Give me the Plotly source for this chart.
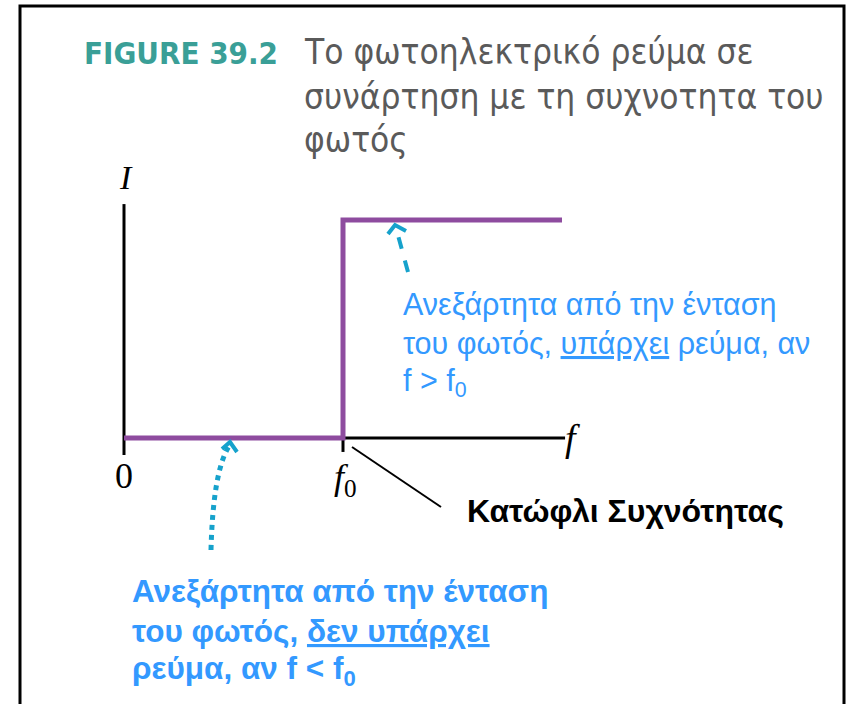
import plotly.graph_objects as go

# Photoelectric current I versus light frequency f (normalised units)
f_points = [0.0, 1.0, 2.0]          # 0, threshold f0, end of plotted range
I_points = [0.0, 1.0, 1.0]          # no current below f0, constant current above
x_axis_f = [0.0, 2.014]
x_axis_I = [0.0, 0.0]
y_axis_f = [0.0, 0.0]
y_axis_I = [-0.078, 1.073]
f0_tick_f = [1.0, 1.0]
f0_tick_I = [0.0, -0.064]

W, H = 852, 704
X_RANGE = [-124 / 219, 728 / 219]
Y_RANGE = [(438 - 704) / 218, 438 / 218]


def px(x):
    return x / W


def py(y):
    return 1 - y / H


BLUE = "#3399ff"
ARROW = "#16a2cc"
PURPLE = "#8e4c9f"
SANS = "Liberation Sans, Arial, sans-serif"
NARROW = "Liberation Sans Narrow, DejaVu Sans Condensed, Liberation Sans, sans-serif"
SERIF = "Liberation Serif, Times New Roman, serif"

fig = go.Figure()

# axes
for xs, ys in [(x_axis_f, x_axis_I), (y_axis_f, y_axis_I), (f0_tick_f, f0_tick_I)]:
    fig.add_trace(go.Scatter(x=xs, y=ys, mode="lines",
                             line=dict(color="black", width=3),
                             hoverinfo="skip", showlegend=False))

# current step
fig.add_trace(go.Scatter(x=f_points, y=I_points, mode="lines",
                         line=dict(color=PURPLE, width=5, shape="hv"),
                         hoverinfo="skip", showlegend=False))

shapes = [
    # outer frame
    dict(type="rect", xref="paper", yref="paper",
         x0=px(20), x1=px(844), y0=-0.05, y1=py(6),
         line=dict(color="black", width=3)),
    # leader line to threshold label
    dict(type="line", xref="paper", yref="paper",
         x0=px(352), y0=py(447), x1=px(441), y1=py(507),
         line=dict(color="black", width=2)),
    # upper dashed arrow
    dict(type="line", xref="paper", yref="paper",
         x0=px(408), y0=py(272), x1=px(396), y1=py(228),
         line=dict(color=ARROW, width=4, dash="dash")),
    dict(type="path", xref="paper", yref="paper",
         path=f"M {px(388)} {py(234)} L {px(395)} {py(225)} L {px(406)} {py(231)}",
         line=dict(color=ARROW, width=4)),
    # lower dotted curved arrow
    dict(type="path", xref="paper", yref="paper",
         path=f"M {px(211)} {py(550)} Q {px(213)} {py(472)} {px(229)} {py(446)}",
         line=dict(color=ARROW, width=5, dash="dot")),
    dict(type="path", xref="paper", yref="paper",
         path=f"M {px(222)} {py(449)} L {px(230)} {py(442)} L {px(237)} {py(452)}",
         line=dict(color=ARROW, width=4)),
]

ann = []


def text(x, y, s, size, color, family, xanchor="left", yanchor="middle"):
    ann.append(dict(x=px(x), y=py(y), xref="paper", yref="paper", text=s,
                    showarrow=False, xanchor=xanchor, yanchor=yanchor,
                    font=dict(size=size, color=color, family=family)))


# title
text(82, 53, "<b>FIGURE 39.2</b>", 31, "#3a9f97", NARROW)
text(302, 52, "Το φωτοηλεκτρικό ρεύμα σε", 35, "#5a5a5a", NARROW)
text(302, 97, "συνάρτηση με τη συχνοτητα του", 35, "#5a5a5a", NARROW)
text(302, 140, "φωτός", 35, "#5a5a5a", NARROW)

# axis labels
text(126, 177, "<i>I</i>", 34, "black", SERIF, xanchor="center")
text(572, 438, "<i>f</i>", 38, "black", SERIF, xanchor="center")
text(124, 476, "0", 36, "black", SERIF, xanchor="center")
text(345, 480, "<i>f</i><sub>0</sub>", 36, "black", SERIF, xanchor="center")

# threshold label
text(465, 511, "<b>Κατώφλι Συχνότητας</b>", 32, "black", SANS)

# above-threshold note
text(401, 304, "Ανεξάρτητα από την ένταση", 30.5, BLUE, SANS)
text(401, 343, "του φωτός, <u>υπάρχει</u> ρεύμα, αν", 30.5, BLUE, SANS)
text(401, 382, "f > f<sub>0</sub>", 30.5, BLUE, SANS)

# below-threshold note
text(130, 591, "<b>Ανεξάρτητα από την ένταση</b>", 31.5, BLUE, SANS)
text(130, 631, "<b>του φωτός, <u>δεν υπάρχει</u></b>", 31.5, BLUE, SANS)
text(130, 670, "<b>ρεύμα, αν f < f<sub>0</sub></b>", 31.5, BLUE, SANS)

fig.update_layout(
    width=W, height=H,
    margin=dict(l=0, r=0, t=0, b=0),
    paper_bgcolor="white", plot_bgcolor="white",
    xaxis=dict(range=X_RANGE, visible=False, fixedrange=True),
    yaxis=dict(range=Y_RANGE, visible=False, fixedrange=True),
    shapes=shapes, annotations=ann,
    showlegend=False,
)

fig.write_html("out.html")
